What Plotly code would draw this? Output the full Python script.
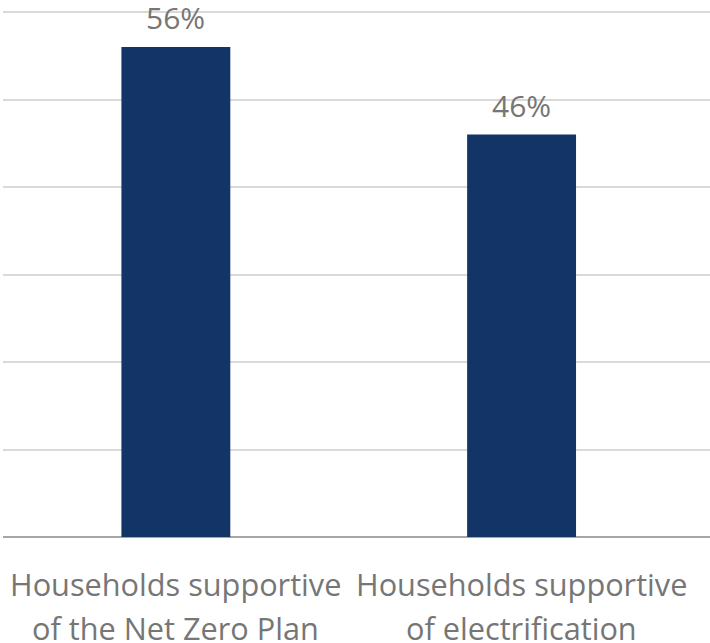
import plotly.graph_objects as go

categories = ["Households supportive<br>of the Net Zero Plan",
              "Households supportive<br>of electrification"]
values = [0.56, 0.46]
value_labels = ["56%", "46%"]
y_ticks = [0.0, 0.1, 0.2, 0.3, 0.4, 0.5, 0.6]

BAR = "#133467"
TXT = "#767676"
FONT = "Open Sans, Segoe UI, sans-serif"

fig = go.Figure()
fig.add_trace(go.Bar(
    x=categories, y=values, width=0.315,
    marker=dict(color=BAR, line=dict(width=0)),
    hoverinfo="skip",
))

annotations = []
for c, v, t in zip(categories, values, value_labels):
    annotations.append(dict(x=c, y=v, xref="x", yref="y", text=t, showarrow=False,
                            yanchor="bottom", yshift=7,
                            font=dict(family=FONT, size=30, color=TXT)))
for c in categories:
    lines = c.split("<br>")
    for i, ln in enumerate(lines):
        annotations.append(dict(x=c, y=0, xref="x", yref="y", text=ln, showarrow=False,
                                yanchor="top", yshift=-24 - 44 * i,
                                font=dict(family=FONT, size=30.7, color=TXT)))

fig.update_layout(
    width=710, height=643,
    margin=dict(l=3, r=0, t=10, b=106),
    paper_bgcolor="white", plot_bgcolor="white",
    showlegend=False,
    font=dict(family=FONT, color=TXT),
    annotations=annotations,
    xaxis=dict(type="category", range=[-0.5, 1.545], showticklabels=False,
               showgrid=False, showline=False, zeroline=False, fixedrange=True),
    yaxis=dict(range=[0, 0.6023], tickvals=y_ticks, showticklabels=False,
               showgrid=True, gridcolor="#d9d9d9", gridwidth=1.5,
               zeroline=True, zerolinecolor="#a6a6a6", zerolinewidth=2,
               showline=False, fixedrange=True),
)

fig.write_html("out.html", config={"displayModeBar": False},
               post_script="document.body.style.margin='0';")
